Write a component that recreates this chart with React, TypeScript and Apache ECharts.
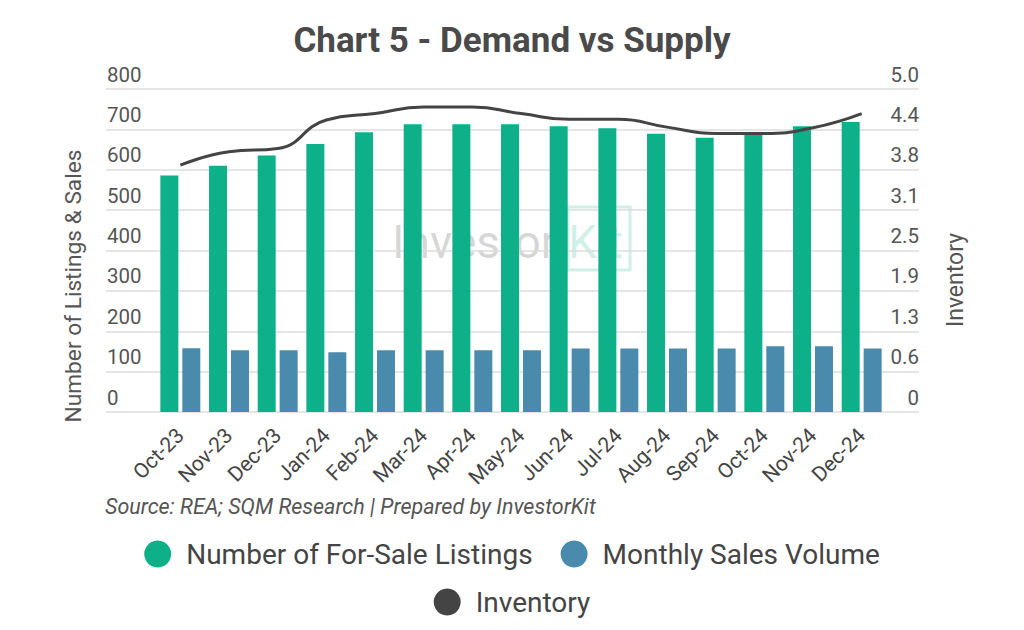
import React, { useEffect, useRef } from 'react';
import * as echarts from 'echarts';

const categories = ['Oct-23', 'Nov-23', 'Dec-23', 'Jan-24', 'Feb-24', 'Mar-24', 'Apr-24', 'May-24', 'Jun-24', 'Jul-24', 'Aug-24', 'Sep-24', 'Oct-24', 'Nov-24', 'Dec-24'];
const listings = [586, 610, 635, 664, 693, 713, 713, 713, 708, 703, 689, 679, 686, 708, 718];
const sales = [158, 153, 153, 148, 153, 153, 153, 153, 157, 157, 157, 157, 163, 163, 157];
const inventory = [3.82, 4.03, 4.08, 4.52, 4.62, 4.72, 4.72, 4.62, 4.53, 4.53, 4.41, 4.31, 4.31, 4.4, 4.62];

const leftMax = 800;
const leftInterval = 100;
const rightMax = 5;
const rightInterval = 0.625;

const GREEN = '#0db089';
const BLUE = '#4a8aad';
const DARK = '#444444';
const FONT = 'Roboto';

export default function App() {
  const ref = useRef<HTMLDivElement>(null);
  useEffect(() => {
    if (!ref.current) return;
    const chart = echarts.init(ref.current, undefined, { renderer: 'svg' });
    const gridTop = 89;
    const gridBottom = 218;
    chart.setOption({
      animation: false,
      backgroundColor: '#ffffff',
      textStyle: { fontFamily: FONT },
      title: {
        text: 'Chart 5 - Demand vs Supply',
        left: 'center',
        top: 18,
        textStyle: { fontFamily: FONT, fontSize: 35, fontWeight: 'bold', color: '#4a4a4a' },
      },
      grid: [
        { left: 106, right: 105, top: gridTop, bottom: gridBottom },
        { left: 156, right: 138, top: gridTop, bottom: gridBottom },
      ],
      xAxis: [
        { gridIndex: 0, type: 'value', min: 0, max: 1, show: false },
        {
          gridIndex: 1,
          type: 'category',
          data: categories,
          axisLine: { show: false },
          axisTick: { show: false },
          axisLabel: { rotate: 45, fontSize: 21, color: DARK, margin: 20, fontFamily: FONT },
        },
      ],
      yAxis: [
        {
          gridIndex: 0,
          type: 'value',
          min: 0,
          max: leftMax,
          interval: leftInterval,
          position: 'left',
          axisLine: { show: false },
          axisTick: { show: false },
          splitLine: { lineStyle: { color: '#dddddd', width: 1.5 } },
          axisLabel: {
            inside: true,
            margin: 1,
            verticalAlign: 'bottom',
            padding: [0, 0, 4, 0],
            fontSize: 20.5,
            color: '#555555',
            fontFamily: FONT,
          },
        },
        {
          gridIndex: 0,
          type: 'value',
          min: 0,
          max: rightMax,
          interval: rightInterval,
          position: 'right',
          axisLine: { show: false },
          axisTick: { show: false },
          splitLine: { show: false },
          axisLabel: {
            inside: true,
            margin: 0,
            verticalAlign: 'bottom',
            padding: [0, 0, 4, 0],
            fontSize: 20.5,
            color: '#555555',
            fontFamily: FONT,
            formatter: (v: number) => (v === 0 ? '0' : v.toFixed(1)),
          },
        },
        { gridIndex: 1, type: 'value', min: 0, max: leftMax, interval: leftInterval, show: false },
        { gridIndex: 1, type: 'value', min: 0, max: rightMax, interval: rightInterval, show: false },
      ],
      legend: [
        {
          data: ['Number of For-Sale Listings', 'Monthly Sales Volume'],
          left: 'center',
          top: 535,
          icon: 'circle',
          itemWidth: 27,
          itemHeight: 27,
          itemGap: 28,
          textStyle: { fontSize: 28, color: DARK, fontFamily: FONT, padding: [0, 0, 0, 10] },
        },
        {
          data: ['Inventory'],
          left: 'center',
          top: 583,
          icon: 'circle',
          itemWidth: 27,
          itemHeight: 27,
          textStyle: { fontSize: 28, color: DARK, fontFamily: FONT, padding: [0, 0, 0, 10] },
        },
      ],
      graphic: [
        {
          type: 'text',
          left: 105,
          top: 495,
          style: {
            text: 'Source: REA; SQM Research | Prepared by InvestorKit',
            fontSize: 21.5,
            fontStyle: 'italic',
            fontFamily: FONT,
            fill: '#555555',
          },
        },
        {
          type: 'text',
          x: 73,
          y: 286,
          rotation: Math.PI / 2,
          style: {
            text: 'Number of Listings & Sales',
            fontSize: 22.7,
            fontFamily: FONT,
            fill: '#555555',
            align: 'center',
            verticalAlign: 'middle',
          },
        },
        {
          type: 'text',
          x: 955,
          y: 280,
          rotation: Math.PI / 2,
          style: {
            text: 'Inventory',
            fontSize: 23,
            fontFamily: FONT,
            fill: '#555555',
            align: 'center',
            verticalAlign: 'middle',
          },
        },
        {
          type: 'text',
          x: 392,
          y: 242,
          z: 0,
          style: {
            text: 'Investor',
            fontSize: 46,
            fontFamily: FONT,
            fill: 'rgba(110,110,110,0.28)',
            verticalAlign: 'middle',
          },
        },
        {
          type: 'text',
          x: 568,
          y: 242,
          z: 0,
          style: {
            text: 'Kit',
            fontSize: 46,
            fontFamily: FONT,
            fill: 'rgba(13,176,137,0.2)',
            verticalAlign: 'middle',
          },
        },
        {
          type: 'rect',
          z: 0,
          shape: { x: 568, y: 207, width: 62, height: 63 },
          style: { fill: 'none', stroke: 'rgba(13,176,137,0.2)', lineWidth: 3 },
        },
      ],
      series: [
        {
          name: 'Number of For-Sale Listings',
          type: 'bar',
          xAxisIndex: 1,
          yAxisIndex: 2,
          data: listings,
          barWidth: 18,
          barGap: '22%',
          itemStyle: { color: GREEN },
        },
        {
          name: 'Monthly Sales Volume',
          type: 'bar',
          xAxisIndex: 1,
          yAxisIndex: 2,
          data: sales,
          barWidth: 18,
          barGap: '22%',
          itemStyle: { color: BLUE },
        },
        {
          name: 'Inventory',
          type: 'line',
          xAxisIndex: 1,
          yAxisIndex: 3,
          data: inventory,
          smooth: true,
          symbol: 'none',
          lineStyle: { color: DARK, width: 3 },
          itemStyle: { color: DARK },
        },
      ],
    });
    return () => chart.dispose();
  }, []);
  return <div ref={ref} style={{ position: 'fixed', left: 0, top: 0, width: 1024, height: 630 }} />;
}
